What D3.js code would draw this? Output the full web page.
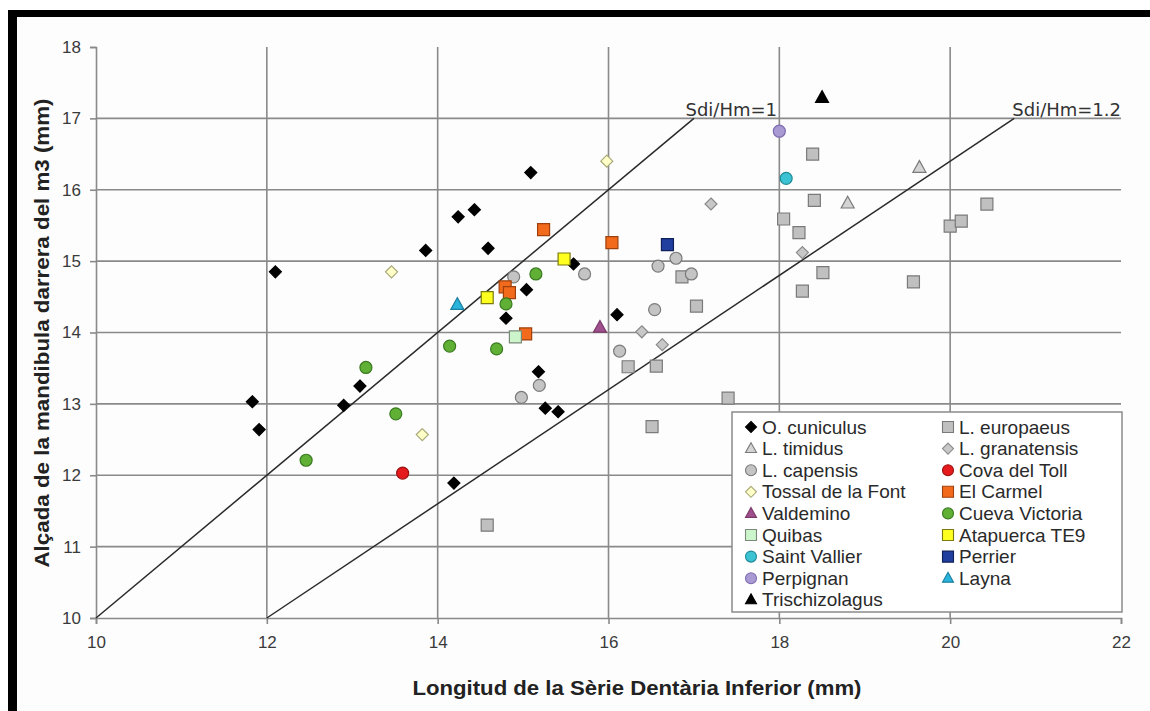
<!DOCTYPE html>
<html>
<head>
<meta charset="utf-8">
<script src="https://cdn.jsdelivr.net/npm/d3@7/dist/d3.min.js"></script>
<style>
  html, body { margin: 0; padding: 0; background: #ffffff; }
  svg { display: block; }
</style>
</head>
<body>
<svg id="chart" width="1150" height="711"></svg>
<script>
// Lower tooth-row length (x, mm) vs mandible height behind m3 (y, mm)
const cuniculus = [[12.10,14.85],[13.86,15.15],[14.24,15.62],[14.43,15.72],[14.59,15.18],[15.09,16.24],
  [15.59,14.96],[15.04,14.60],[14.80,14.20],[16.10,14.25],[15.18,13.45],[15.26,12.94],[15.41,12.89],
  [14.19,11.89],[13.09,13.25],[12.90,12.98],[11.83,13.03],[11.91,12.64]];
const europaeus = [[18.39,16.50],[18.41,15.85],[18.05,15.59],[18.23,15.40],[18.51,14.84],[18.27,14.58],
  [19.57,14.71],[20.00,15.49],[20.13,15.56],[20.43,15.80],[16.86,14.78],[17.03,14.37],[16.23,13.52],
  [16.56,13.53],[17.40,13.08],[16.51,12.68],[14.58,11.30]];
const timidus = [[19.64,16.31],[18.80,15.81]];
const granatensis = [[17.20,15.80],[18.27,15.12],[16.39,14.01],[16.63,13.83]];
const capensis = [[15.72,14.82],[16.58,14.93],[16.79,15.04],[16.97,14.82],[16.54,14.32],[16.13,13.74],
  [14.89,14.78],[15.19,13.26],[14.98,13.09]];
const covaDelToll = [[13.59,12.03]];
const tossalDeLaFont = [[13.46,14.85],[15.98,16.40],[13.82,12.57]];
const elCarmel = [[15.24,15.44],[16.04,15.26],[14.79,14.64],[14.84,14.56],[15.03,13.98]];
const valdemino = [[15.90,14.07]];
const cuevaVictoria = [[15.15,14.82],[14.80,14.40],[14.14,13.81],[14.69,13.77],[13.16,13.51],[13.51,12.86],[12.46,12.21]];
const quibas = [[14.91,13.94]];
const atapuerca = [[14.58,14.49],[15.48,15.03]];
const saintVallier = [[18.08,16.16]];
const perrier = [[16.69,15.23]];
const perpignan = [[18.00,16.82]];
const layna = [[14.23,14.39]];
const trischizolagus = [[18.50,17.29]];

const seriesNames = ["O. cuniculus","L. europaeus","L. timidus","L. granatensis","L. capensis","Cova del Toll",
  "Tossal de la Font","El Carmel","Valdemino","Cueva Victoria","Quibas","Atapuerca TE9","Saint Vallier",
  "Perrier","Perpignan","Layna","Trischizolagus"];
const seriesData = [cuniculus, europaeus, timidus, granatensis, capensis, covaDelToll, tossalDeLaFont,
  elCarmel, valdemino, cuevaVictoria, quibas, atapuerca, saintVallier, perrier, perpignan, layna, trischizolagus];
const seriesShapes = ["diamond","square","triangle","diamond","circle","circle","diamond","square","triangle",
  "circle","square","square","circle","square","circle","triangle","triangle"];
const seriesFill = ["#000000","#c0c0c0","#d4d4d4","#c8c8c8","#c4c4c4","#e41a1c","#ffffc8","#f26a1b","#a0508c",
  "#5fb035","#ccf5cc","#ffff20","#3cc3d3","#203f9f","#a99ad4","#2ab4dc","#000000"];
const seriesStroke = ["#000000","#7a7a7a","#7a7a7a","#8a8a8a","#7a7a7a","#9a1010","#a8a878","#a0400c","#7a3a6a",
  "#3a7a20","#7a8a7a","#7a7a10","#1f8a98","#10205a","#7e6cb0","#1a7fa0","#000000"];

// Reference ratio lines
const ratioLines = [
  { label: "Sdi/Hm=1",   from: [10, 10], to: [17, 17] },
  { label: "Sdi/Hm=1.2", from: [12, 10], to: [20.75, 17] }
];

const xTicks = [10, 12, 14, 16, 18, 20, 22];
const yTicks = [10, 11, 12, 13, 14, 15, 16, 17, 18];

const svg = d3.select("#chart");
const x = d3.scaleLinear().domain([10, 22]).range([96, 1121]);
const y = d3.scaleLinear().domain([10, 18]).range([618, 47]);

// Black frame around the figure
svg.append("rect").attr("x", 8).attr("y", 10).attr("width", 1150).attr("height", 711).attr("fill", "#000");
svg.append("rect").attr("x", 17).attr("y", 17).attr("width", 1150).attr("height", 711).attr("fill", "#fdfdfd");

const gridColor = "#8a8a8a";

// Gridlines
svg.append("g").selectAll("line.v").data(xTicks.filter(d => d > 10 && d < 22)).join("line")
  .attr("x1", d => x(d)).attr("x2", d => x(d)).attr("y1", y(18)).attr("y2", y(10))
  .attr("stroke", gridColor).attr("stroke-width", 1.6);
svg.append("g").selectAll("line.h").data(yTicks.filter(d => d > 10 && d < 18)).join("line")
  .attr("x1", x(10)).attr("x2", x(22)).attr("y1", d => y(d)).attr("y2", d => y(d))
  .attr("stroke", gridColor).attr("stroke-width", 1.6);

// Axes
const xAxis = d3.axisBottom(x).tickValues(xTicks).tickSize(6).tickPadding(12).tickFormat(d3.format("d"));
const yAxis = d3.axisLeft(y).tickValues(yTicks).tickSize(6).tickPadding(9).tickFormat(d3.format("d"));
const gx = svg.append("g").attr("transform", `translate(0,${y(10)})`).call(xAxis);
const gy = svg.append("g").attr("transform", `translate(${x(10)},0)`).call(yAxis);
[gx, gy].forEach(g => {
  g.select(".domain").attr("stroke", gridColor).attr("stroke-width", 1.6);
  g.selectAll(".tick line").attr("stroke", gridColor).attr("stroke-width", 1.6);
  g.selectAll(".tick text").attr("fill", "#3a3a3a")
    .style("font-family", "'Liberation Sans', Arial, sans-serif").style("font-size", "17px");
});

// Ratio lines and their labels
ratioLines.forEach(l => {
  svg.append("line")
    .attr("x1", x(l.from[0])).attr("y1", y(l.from[1]))
    .attr("x2", x(l.to[0])).attr("y2", y(l.to[1]))
    .attr("stroke", "#2a2a2a").attr("stroke-width", 1.5);
});
svg.append("text").attr("x", 777).attr("y", 116).attr("text-anchor", "end")
  .style("font-family", "'DejaVu Sans', Verdana, sans-serif").style("font-size", "18px").attr("fill", "#333")
  .text(ratioLines[0].label);
svg.append("text").attr("x", 1121).attr("y", 116).attr("text-anchor", "end")
  .style("font-family", "'DejaVu Sans', Verdana, sans-serif").style("font-size", "18px").attr("fill", "#333")
  .text(ratioLines[1].label);

// Marker path generator
function markerPath(shape, s) {
  if (shape === "circle") return d3.symbol(d3.symbolCircle, Math.PI * (s / 2) * (s / 2))();
  if (shape === "square") return d3.symbol(d3.symbolSquare, s * s)();
  if (shape === "diamond") { const h = s / 2; return `M0,${-h}L${h},0L0,${h}L${-h},0Z`; }
  if (shape === "triangle") {
    const h = s * 0.9;
    return `M0,${-h * 0.6}L${s / 2},${h * 0.4}L${-s / 2},${h * 0.4}Z`;
  }
}
const markerSize = { circle: 12, square: 12, diamond: 12, triangle: 13 };

// Scatter points
seriesData.forEach((pts, i) => {
  const shape = seriesShapes[i];
  svg.append("g").selectAll("path").data(pts).join("path")
    .attr("transform", d => `translate(${x(d[0])},${y(d[1])})`)
    .attr("d", markerPath(shape, markerSize[shape]))
    .attr("fill", seriesFill[i]).attr("stroke", seriesStroke[i]).attr("stroke-width", 1.2);
});

// Axis titles
svg.append("text").attr("x", 637).attr("y", 695).attr("text-anchor", "middle")
  .attr("textLength", 449).attr("lengthAdjust", "spacingAndGlyphs")
  .style("font-family", "'Liberation Sans', Arial, sans-serif").style("font-size", "20px").style("font-weight", "bold")
  .attr("fill", "#222").text("Longitud de la Sèrie Dentària Inferior (mm)");
svg.append("text").attr("transform", "translate(49,333) rotate(-90)").attr("text-anchor", "middle")
  .attr("textLength", 469).attr("lengthAdjust", "spacingAndGlyphs")
  .style("font-family", "'Liberation Sans', Arial, sans-serif").style("font-size", "20px").style("font-weight", "bold")
  .attr("fill", "#222").text("Alçada de la mandibula darrera del m3 (mm)");

// Legend
const legend = svg.append("g");
legend.append("rect").attr("x", 732).attr("y", 412).attr("width", 390).attr("height", 200)
  .attr("fill", "#ffffff").attr("stroke", "#8a8a8a").attr("stroke-width", 1.5);
seriesNames.forEach((name, i) => {
  const col = i % 2, row = Math.floor(i / 2);
  const mx = col === 0 ? 751 : 948;
  const my = 427 + row * 21.6;
  const shape = seriesShapes[i];
  legend.append("path").attr("transform", `translate(${mx},${my})`)
    .attr("d", markerPath(shape, 11))
    .attr("fill", seriesFill[i]).attr("stroke", seriesStroke[i]).attr("stroke-width", 1.1);
  legend.append("text").attr("x", mx + 11).attr("y", my).attr("dy", "0.35em")
    .style("font-family", "'Liberation Sans', Arial, sans-serif").style("font-size", "19px")
    .attr("fill", "#2a2a2a").text(name);
});
</script>
</body>
</html>
